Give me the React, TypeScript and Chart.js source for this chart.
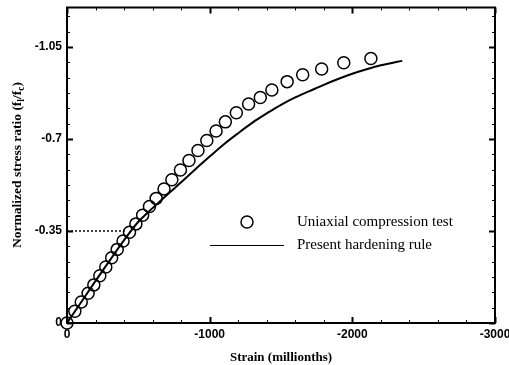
import React, { useEffect, useRef } from "react";
import { Chart, registerables } from "chart.js";

Chart.register(...registerables);

// Uniaxial compression test (circles)
const testStrain = [0, -55, -100, -148, -188, -230, -272, -313, -352, -393, -438, -483, -530, -578, -625, -680, -735, -795, -855, -918, -980, -1045, -1110, -1187, -1273, -1355, -1436, -1543, -1652, -1785, -1940, -2130];
const testStress = [0, -0.045, -0.08, -0.113, -0.145, -0.18, -0.213, -0.248, -0.28, -0.312, -0.345, -0.377, -0.41, -0.443, -0.474, -0.51, -0.545, -0.582, -0.618, -0.656, -0.694, -0.73, -0.765, -0.8, -0.833, -0.858, -0.886, -0.918, -0.944, -0.966, -0.99, -1.006];

// Present hardening rule (line)
const ruleStrain = [0, -100, -200, -300, -400, -500, -600, -700, -800, -900, -1000, -1100, -1200, -1300, -1400, -1500, -1600, -1700, -1800, -1900, -2000, -2100, -2200, -2350];
const ruleStress = [0, -0.08, -0.16, -0.238, -0.315, -0.385, -0.437, -0.487, -0.535, -0.585, -0.633, -0.68, -0.722, -0.762, -0.797, -0.83, -0.858, -0.882, -0.906, -0.928, -0.948, -0.965, -0.98, -0.997];

// dotted reference line at -0.35
const refStrain = [0, -405];
const refStress = [-0.35, -0.35];

const xMajorTicks = [0, -1000, -2000, -3000];
const yMajorTicks = [0, -0.35, -0.7, -1.05];
const xMinorStep = 200;
const yMinorStep = 0.35 / 6;

const legendLabels = ["Uniaxial compression test", "Present hardening rule"];
const xTitle = "Strain (millionths)";

const SERIF = "'Liberation Serif', 'Times New Roman', serif";
const SANS = "'Liberation Sans', Arial, sans-serif";

const framePlugin = {
  id: "frame",
  afterDraw(chart: any) {
    const ctx = chart.ctx;
    const { left, right, top, bottom } = chart.chartArea;
    const xs = chart.scales.x;
    const ys = chart.scales.y;
    ctx.save();
    ctx.strokeStyle = "#000";
    // frame
    ctx.lineWidth = 2;
    ctx.strokeRect(left, top, right - left, bottom - top);
    // x ticks
    for (let v = 0; v >= -3000; v -= xMinorStep) {
      const px = Math.round(xs.getPixelForValue(v)) + 0.5;
      const major = xMajorTicks.includes(v);
      const len = major ? 6 : 3;
      ctx.lineWidth = major ? 2 : 1;
      ctx.beginPath();
      ctx.moveTo(px, bottom);
      ctx.lineTo(px, bottom - len);
      ctx.moveTo(px, top);
      ctx.lineTo(px, top + len);
      ctx.stroke();
    }
    // y ticks
    for (let i = 0; i * yMinorStep <= 1.2 + 1e-9; i++) {
      const v = -i * yMinorStep;
      const py = Math.round(ys.getPixelForValue(v)) + 0.5;
      const major = i % 6 === 0;
      const len = major ? 6 : 3;
      ctx.lineWidth = major ? 2 : 1;
      ctx.beginPath();
      ctx.moveTo(left, py);
      ctx.lineTo(left + len, py);
      ctx.moveTo(right, py);
      ctx.lineTo(right - len, py);
      ctx.stroke();
    }

    // y-axis title with subscripts
    ctx.translate(18, 165);
    ctx.rotate(-Math.PI / 2);
    const big = "bold 13.5px " + SERIF;
    const small = "bold 9.5px " + SERIF;
    const parts: [string, boolean][] = [
      ["Normalized stress ratio (f", false],
      ["l", true],
      ["/f", false],
      ["c", true],
      [")", false],
    ];
    let total = 0;
    for (const [t, sub] of parts) {
      ctx.font = sub ? small : big;
      total += ctx.measureText(t).width;
    }
    let x = -total / 2;
    ctx.fillStyle = "#000";
    ctx.textBaseline = "middle";
    ctx.textAlign = "left";
    for (const [t, sub] of parts) {
      ctx.font = sub ? small : big;
      ctx.fillText(t, x, sub ? 4 : 0);
      x += ctx.measureText(t).width;
    }
    ctx.restore();

    // legend
    ctx.save();
    ctx.strokeStyle = "#000";
    ctx.fillStyle = "#000";
    ctx.lineWidth = 1.5;
    ctx.beginPath();
    ctx.arc(247, 222, 6, 0, Math.PI * 2);
    ctx.stroke();
    ctx.lineWidth = 1.2;
    ctx.beginPath();
    ctx.moveTo(210, 245.5);
    ctx.lineTo(284, 245.5);
    ctx.stroke();
    ctx.font = "15px " + SERIF;
    ctx.textBaseline = "middle";
    ctx.textAlign = "left";
    ctx.fillText(legendLabels[0], 297, 222);
    ctx.fillText(legendLabels[1], 297, 245);
    ctx.restore();
  },
};

export default function App() {
  const ref = useRef<HTMLCanvasElement | null>(null);
  useEffect(() => {
    if (!ref.current) return;
    const chart = new Chart(ref.current, {
      type: "scatter",
      data: {
        datasets: [
          {
            label: legendLabels[0],
            data: testStrain.map((x, i) => ({ x, y: testStress[i] })),
            showLine: false,
            pointStyle: "circle",
            pointRadius: 6,
            pointBorderWidth: 1.5,
            borderColor: "#000",
            backgroundColor: "rgba(0,0,0,0)",
            clip: false,
            order: 1,
          } as any,
          {
            label: legendLabels[1],
            data: ruleStrain.map((x, i) => ({ x, y: ruleStress[i] })),
            showLine: true,
            pointRadius: 0,
            borderColor: "#000",
            borderWidth: 2,
            cubicInterpolationMode: "monotone",
            order: 2,
          } as any,
          {
            label: "ref",
            data: refStrain.map((x, i) => ({ x, y: refStress[i] })),
            showLine: true,
            pointRadius: 0,
            borderColor: "#000",
            borderWidth: 1.5,
            borderDash: [2, 2],
            order: 3,
          } as any,
        ],
      },
      options: {
        animation: false,
        responsive: true,
        maintainAspectRatio: false,
        layout: { padding: { top: 5, right: 14, left: 0, bottom: 0 } },
        plugins: { legend: { display: false }, tooltip: { enabled: false } },
        scales: {
          x: {
            type: "linear",
            min: -3000,
            max: 0,
            reverse: true,
            afterBuildTicks: (s: any) => {
              s.ticks = xMajorTicks.map((v) => ({ value: v }));
            },
            afterFit: (s: any) => {
              s.height = 42;
              s.paddingLeft = 0;
              s.paddingRight = 0;
              s.paddingTop = 0;
              s.paddingBottom = 0;
            },
            grid: { display: false, drawTicks: false },
            border: { display: false },
            ticks: {
              autoSkip: false,
              maxRotation: 0,
              padding: 4,
              color: "#000",
              font: { family: SANS, size: 12, weight: "bold" },
              callback: (v: any) => String(v),
            },
            title: {
              display: true,
              text: xTitle,
              color: "#000",
              font: { family: SERIF, size: 13, weight: "bold" },
              padding: { top: 3, bottom: 0 },
            },
          },
          y: {
            type: "linear",
            min: -1.2,
            max: 0,
            reverse: true,
            afterBuildTicks: (s: any) => {
              s.ticks = yMajorTicks.map((v) => ({ value: v }));
            },
            afterFit: (s: any) => {
              s.width = 67;
              s.paddingLeft = 0;
              s.paddingRight = 0;
              s.paddingTop = 0;
              s.paddingBottom = 0;
            },
            grid: { display: false, drawTicks: false },
            border: { display: false },
            ticks: {
              autoSkip: false,
              padding: 5,
              color: "#000",
              font: { family: SANS, size: 12, weight: "bold" },
              callback: (v: any) => String(v),
            },
          },
        },
      },
      plugins: [framePlugin],
    });
    return () => chart.destroy();
  }, []);
  return (
    <div style={{ position: "fixed", left: 0, top: 0, width: 509, height: 365, background: "#fff" }}>
      <canvas ref={ref} />
    </div>
  );
}
